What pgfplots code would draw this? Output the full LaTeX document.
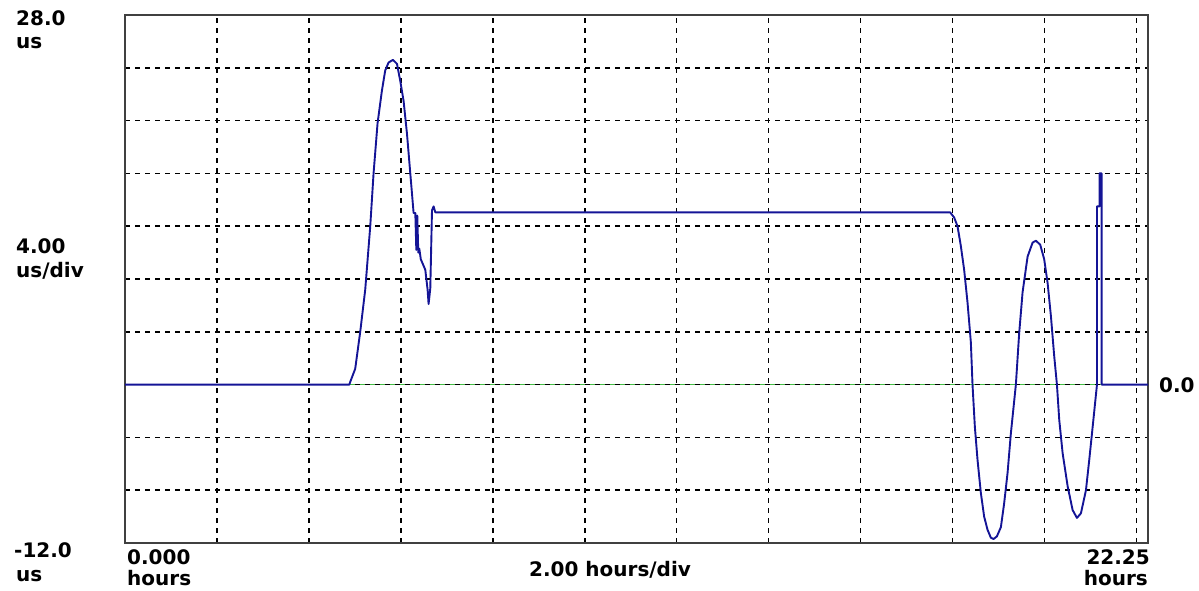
\documentclass[border=0pt]{standalone}
\usepackage{pgfplots}
\pgfplotsset{compat=1.18}
\usepackage{fontspec}
\setmainfont{DejaVu Sans}
\definecolor{trace}{RGB}{20,20,150}
\definecolor{zgreen}{RGB}{70,190,70}
\begin{document}
\begin{tikzpicture}[x=1pt,y=1pt]
\path[use as bounding box] (0,0) rectangle (1199,590);
\begin{axis}[
  at={(125pt,47pt)}, anchor=south west,
  scale only axis, width=1023pt, height=528pt,
  xmin=0, xmax=22.25, ymin=-12, ymax=28,
  xtick={2,4,...,22}, ytick={-8,-4,...,24},
  xticklabels={}, yticklabels={},
  major tick length=0pt,
  grid=major,
  major grid style={black, line width=1.5pt, dash pattern=on 5pt off 5pt},
  axis line style={draw=black!75, line width=1.8pt},
  clip=true,
]
\addplot[zgreen, line width=1.5pt, dash pattern=on 5pt off 5pt, dash phase=5pt] coordinates {(0,0) (22.25,0)};
\addplot[trace, line width=1.9pt, line join=round] coordinates {
(0,0) (4.880,0) (4.898,0.2) (5.007,1.2) (5.116,4.0) (5.225,7.2) (5.334,12.0)
(5.406,16.0) (5.493,19.8) (5.589,22.3) (5.660,23.8) (5.732,24.4) (5.828,24.6)
(5.915,24.3) (5.987,23.0) (6.059,21.5) (6.133,19.0) (6.205,16.0) (6.277,13.0)
(6.314,13.0) (6.336,10.2) (6.357,12.8) (6.379,10.0) (6.401,10.3) (6.433,9.5)
(6.531,8.7) (6.581,7.2) (6.603,6.1) (6.640,7.3) (6.677,13.2) (6.712,13.5)
(6.749,13.05) (17.946,13.05) (18.033,12.66) (18.107,12.0) (18.179,10.5)
(18.251,8.7) (18.325,6.2) (18.397,3.2) (18.433,0) (18.484,-3.2) (18.542,-5.7)
(18.614,-8.2) (18.686,-10.0) (18.760,-11.0) (18.832,-11.6) (18.890,-11.7)
(18.963,-11.5) (19.050,-10.8) (19.121,-9.0) (19.195,-6.7) (19.267,-3.7)
(19.376,0) (19.448,3.9) (19.522,7.0) (19.631,9.7) (19.740,10.76) (19.812,10.9)
(19.905,10.6) (19.992,9.5) (20.066,7.7) (20.138,5.2) (20.210,2.15) (20.269,0)
(20.319,-2.66) (20.393,-5.2) (20.502,-7.7) (20.610,-9.5) (20.704,-10.1)
(20.791,-9.75) (20.900,-8.0) (20.972,-5.7) (21.046,-3.2) (21.140,0)
(21.140,13.5) (21.194,13.5) (21.194,16.0) (21.242,16.0) (21.242,0) (22.25,0)
};
\end{axis}
\tikzset{lab/.style={font=\fontsize{20}{20}\selectfont\bfseries, inner sep=0pt}}
\node[lab, anchor=west] at (16,572) {28.0};
\node[lab, anchor=west] at (16,547) {us};
\node[lab, anchor=west] at (16,344) {4.00};
\node[lab, anchor=west] at (16,319) {us/div};
\node[lab, anchor=west] at (14,40) {-12.0};
\node[lab, anchor=west] at (16,14) {us};
\node[lab, anchor=west] at (127,33) {0.000};
\node[lab, anchor=west] at (127,12) {hours};
\node[lab, anchor=center] at (610,20) {2.00 hours/div};
\node[lab, anchor=east] at (1150,33) {22.25};
\node[lab, anchor=east] at (1148,12) {hours};
\node[lab, anchor=west] at (1159,205) {0.0};
\end{tikzpicture}
\end{document}
